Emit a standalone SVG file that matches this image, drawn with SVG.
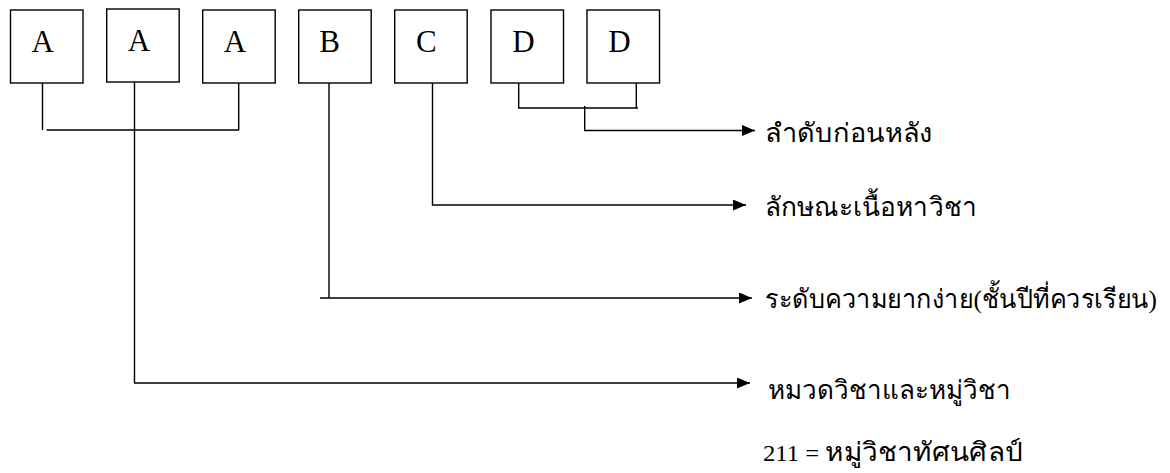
<svg xmlns="http://www.w3.org/2000/svg" width="1170" height="473" viewBox="0 0 1170 473">
<style>
.box{fill:#fff;stroke:#000;stroke-width:1.4}
.lbl{font-family:"Liberation Serif","Times New Roman",serif;font-size:31px;fill:#000}
.th{font-family:"Liberation Serif","DejaVu Serif",serif;font-size:26px;fill:#000}
.num{font-size:23px}
.ln{fill:none;stroke:#000;stroke-width:1.4}
</style>
<defs>
<marker id="ah" markerUnits="userSpaceOnUse" markerWidth="14" markerHeight="12" refX="13" refY="5.5" orient="auto">
<path d="M0,0 L13,5.5 L0,11 Z" fill="#000"/>
</marker>
</defs>
<rect width="1170" height="473" fill="#fff"/>
<g id="nA1"><rect class="box" x="10.5" y="10" width="72.5" height="73"/><text class="lbl" x="31.5" y="51.7">A</text></g>
<g id="nA2"><rect class="box" x="106.7" y="9" width="72.5" height="73"/><text class="lbl" x="127.7" y="50.7">A</text></g>
<g id="nA3"><rect class="box" x="202.7" y="10" width="72.5" height="73"/><text class="lbl" x="223.7" y="51.7">A</text></g>
<g id="nB"><rect class="box" x="298.7" y="10" width="72.5" height="73"/><text class="lbl" x="319.3" y="51.7">B</text></g>
<g id="nC"><rect class="box" x="394.7" y="10" width="72.5" height="73"/><text class="lbl" x="416" y="51.7">C</text></g>
<g id="nD1"><rect class="box" x="491" y="10" width="72.5" height="73"/><text class="lbl" x="512.3" y="51.7">D</text></g>
<g id="nD2"><rect class="box" x="587" y="10" width="72.5" height="73"/><text class="lbl" x="608.3" y="51.7">D</text></g>
<g id="connectors">
<path class="ln" d="M42.5,83 V130 M46.5,130 H239 M238.7,83 V130"/>
<path class="ln" d="M134.5,82 V383 H750" marker-end="url(#ah)"/>
<path class="ln" d="M329,83 V298 M320,298 H752" marker-end="url(#ah)"/>
<path class="ln" d="M432.5,83 V205 H746" marker-end="url(#ah)"/>
<path class="ln" d="M518.7,83 V108 H638 M636.3,83 V108"/>
<path class="ln" d="M584.7,106 V130.5 H755" marker-end="url(#ah)"/>
</g>
<g id="labels">
<text class="th" x="765" y="142" textLength="168" lengthAdjust="spacingAndGlyphs">ลำดับก่อนหลัง</text>
<text class="th" x="765" y="216" textLength="212" lengthAdjust="spacingAndGlyphs">ลักษณะเนื้อหาวิชา</text>
<text class="th" x="765" y="308" textLength="392" lengthAdjust="spacingAndGlyphs">ระดับความยากง่าย(ชั้นปีที่ควรเรียน)</text>
<text class="th" x="768" y="399" textLength="243" lengthAdjust="spacingAndGlyphs">หมวดวิชาและหมู่วิชา</text>
<text class="th" x="763" y="461" textLength="260" lengthAdjust="spacingAndGlyphs"><tspan class="num">211 = </tspan>หมู่วิชาทัศนศิลป์</text>
</g>
</svg>
